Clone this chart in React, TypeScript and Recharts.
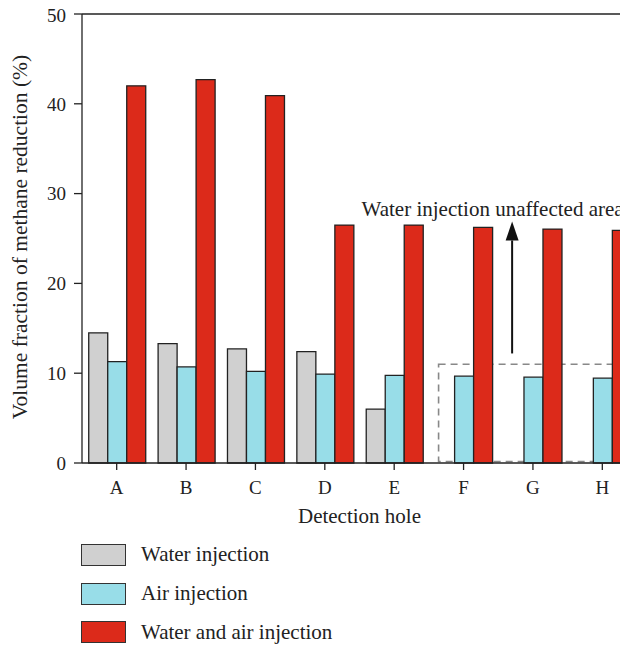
import React from "react";
import {
  BarChart,
  Bar,
  XAxis,
  YAxis,
  ReferenceArea,
  ReferenceLine,
  ReferenceDot,
} from "recharts";

const holes = ["A", "B", "C", "D", "E", "F", "G", "H"];
const waterInjection = [14.5, 13.3, 12.7, 12.4, 6.0, null, null, null];
const airInjection = [11.3, 10.7, 10.2, 9.9, 9.75, 9.67, 9.56, 9.45];
const waterAirInjection = [42.0, 42.7, 40.9, 26.5, 26.5, 26.25, 26.05, 25.9];
const yTicks = [0, 10, 20, 30, 40, 50];

const series = [
  { key: "water", name: "Water injection", color: "#d0d0d0" },
  { key: "air", name: "Air injection", color: "#98dde8" },
  { key: "both", name: "Water and air injection", color: "#dc2a1a" },
];

const data = holes.map((hole, i) => ({
  hole,
  idx: i,
  water: waterInjection[i],
  air: airInjection[i],
  both: waterAirInjection[i],
}));

// annotations sit on a hidden numeric axis where category i is centred at x = i
const unaffectedBox = { x1: 4.64, x2: 7.5, y1: 0.17, y2: 11 };
const arrowSegment = [
  { x: 5.7, y: 12.2 },
  { x: 5.7, y: 26.9 },
];
const noteAnchor = { x: 3.53, y: 27.5 };

const FONT = '"Liberation Serif", "Times New Roman", serif';
const INK = "#222";

const Arrow = (props: any) => {
  const { x1, y1, x2, y2 } = props;
  const head = 19;
  return (
    <g>
      <line x1={x1} y1={y1} x2={x2} y2={y2 + head} stroke="#111" strokeWidth={2} />
      <polygon
        points={`${x2},${y2} ${x2 - 6.5},${y2 + head} ${x2 + 6.5},${y2 + head}`}
        fill="#111"
      />
    </g>
  );
};

const Note = (props: any) => (
  <text x={props.cx} y={props.cy} fontSize={21} fontFamily={FONT} fill="#222">
    Water injection unaffected area
  </text>
);

const YTitle = (props: any) => {
  const vb = props.viewBox;
  const cx = 19;
  const cy = vb.y + vb.height / 2 - 1.5;
  return (
    <text
      x={cx}
      y={cy}
      transform={`rotate(-90, ${cx}, ${cy})`}
      textAnchor="middle"
      fontSize={21.5}
      fontFamily={FONT}
      fill="#222"
    >
      Volume fraction of methane reduction (%)
    </text>
  );
};

export default function App() {
  return (
    <div style={{ width: 620, overflow: "hidden", fontFamily: FONT, marginTop: -4 }}>
      <BarChart
        width={660}
        height={534}
        data={data}
        margin={{ top: 10, right: 31, left: 0, bottom: 13 }}
        barCategoryGap="9.7%"
        barGap={0}
      >
        <XAxis
          dataKey="hole"
          height={62}
          tickSize={7}
          tickMargin={11}
          stroke={INK}
          strokeWidth={1.3}
          tick={{ fill: "#222", fontSize: 19, fontFamily: FONT }}
          label={{
            value: "Detection hole",
            position: "insideBottom",
            offset: 2,
            fill: "#222",
            fontSize: 21,
            fontFamily: FONT,
          }}
        />
        <XAxis
          xAxisId="pos"
          dataKey="idx"
          type="number"
          domain={[-0.5, 7.5]}
          allowDataOverflow
          hide
        />
        <YAxis
          width={74}
          domain={[0, 50]}
          ticks={yTicks}
          tickSize={8}
          tickMargin={8}
          stroke={INK}
          strokeWidth={1.3}
          tick={{ fill: "#222", fontSize: 19, fontFamily: FONT }}
          label={{ content: (p: any) => <YTitle {...p} /> }}
        />
        {series.map((s) => (
          <Bar
            key={s.key}
            dataKey={s.key}
            name={s.name}
            fill={s.color}
            stroke={INK}
            strokeWidth={1.3}
            isAnimationActive={false}
          />
        ))}
        <ReferenceLine y={50} stroke={INK} strokeWidth={1.3} />
        <ReferenceArea
          xAxisId="pos"
          x1={unaffectedBox.x1}
          x2={unaffectedBox.x2}
          y1={unaffectedBox.y1}
          y2={unaffectedBox.y2}
          fill="none"
          fillOpacity={0}
          stroke="#888"
          strokeWidth={1.6}
          strokeDasharray="7 5"
          ifOverflow="visible"
        />
        <ReferenceLine
          xAxisId="pos"
          segment={arrowSegment}
          shape={(p: any) => <Arrow {...p} />}
          ifOverflow="visible"
        />
        <ReferenceDot
          xAxisId="pos"
          x={noteAnchor.x}
          y={noteAnchor.y}
          r={0}
          shape={(p: any) => <Note {...p} />}
          ifOverflow="visible"
        />
      </BarChart>
      <div style={{ paddingLeft: 73, marginTop: 5 }}>
        {series.map((s) => (
          <div
            key={s.key}
            style={{ display: "flex", alignItems: "center", height: 38.7 }}
          >
            <div
              style={{
                width: 43,
                height: 20,
                background: s.color,
                border: "1.3px solid #333",
                marginRight: 15,
                marginTop: -15,
              }}
            />
            <span style={{ fontSize: 21, color: "#222", marginTop: -15 }}>{s.name}</span>
          </div>
        ))}
      </div>
    </div>
  );
}
